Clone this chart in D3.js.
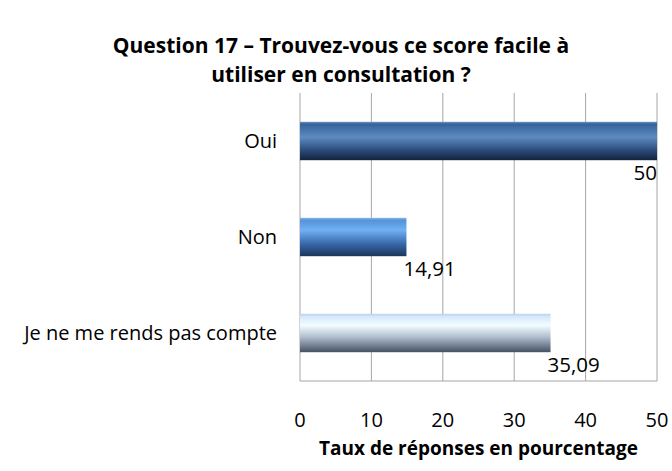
<!DOCTYPE html>
<html>
<head>
<meta charset="utf-8">
<script src="https://cdn.jsdelivr.net/npm/d3@7"></script>
<style>
  body { margin: 0; background: #fff; }
  text { font-family: "Open Sans", "Noto Sans", sans-serif; fill: #000; }
</style>
</head>
<body>
<script>
var categories = ["Oui", "Non", "Je ne me rends pas compte"];
var values = [50, 14.91, 35.09];
var valueLabels = ["50", "14,91", "35,09"];
var ticks = [0, 10, 20, 30, 40, 50];

(function(){
var w = 672, h = 471;
var pLeft = 300, pRight = 657, pTop = 93, pBottom = 381;

var svg = d3.select("body")
    .append("svg")
    .attr("width", w)
    .attr("height", h);

// gradients, one per bar
var stops = [
    [["0%", "#6f93c0"], ["6%", "#34629a"], ["40%", "#5d8bc2"], ["75%", "#2a4a78"], ["100%", "#15233b"]],
    [["0%", "#8fb8ea"], ["6%", "#5592d8"], ["32%", "#70b0f4"], ["70%", "#3465a4"], ["100%", "#1d3559"]],
    [["0%", "#b9d1ee"], ["8%", "#d6e8fb"], ["30%", "#f2fdff"], ["60%", "#b2bfd0"], ["100%", "#465262"]]
];
var defs = svg.append("defs");
stops.forEach(function(s, i){
    var g = defs.append("linearGradient")
        .attr("id", "grad" + i)
        .attr("x1", 0).attr("y1", 0)
        .attr("x2", 0).attr("y2", 1);
    g.selectAll("stop")
        .data(s)
        .enter()
        .append("stop")
        .attr("offset", function(d){ return d[0]; })
        .attr("stop-color", function(d){ return d[1]; });
});

var x = d3.scaleLinear()
    .domain([0, 50])
    .range([pLeft, pRight]);

var y = d3.scaleBand()
    .domain(categories)
    .range([pTop, pBottom])
    .paddingInner(0.6)
    .paddingOuter(0.3);

// gridlines
svg.selectAll(".grid")
    .data(ticks)
    .enter()
    .append("line")
    .attr("class", "grid")
    .attr("x1", function(d){ return x(d); })
    .attr("x2", function(d){ return x(d); })
    .attr("y1", pTop)
    .attr("y2", pBottom)
    .style("stroke", "#a6a6a6")
    .style("stroke-width", 1);

svg.append("line")
    .attr("x1", pLeft)
    .attr("x2", pRight)
    .attr("y1", pBottom)
    .attr("y2", pBottom)
    .style("stroke", "#a6a6a6");

// bars
svg.selectAll(".bar")
    .data(values)
    .enter()
    .append("rect")
    .attr("class", "bar")
    .attr("x", x(0))
    .attr("y", function(d, i){ return y(categories[i]); })
    .attr("width", function(d){ return x(d) - x(0); })
    .attr("height", y.bandwidth())
    .style("fill", function(d, i){ return "url(#grad" + i + ")"; });

// value labels under the bar ends
svg.selectAll(".vlabel")
    .data(values)
    .enter()
    .append("text")
    .attr("class", "vlabel")
    .attr("x", function(d){ return x(d) >= pRight - 20 ? x(d) : x(d) - 3; })
    .attr("y", function(d, i){ return y(categories[i]) + y.bandwidth() + 20; })
    .attr("text-anchor", function(d){ return x(d) >= pRight - 20 ? "end" : "start"; })
    .style("font-size", "20.5px")
    .text(function(d, i){ return valueLabels[i]; });

// category labels
svg.selectAll(".clabel")
    .data(categories)
    .enter()
    .append("text")
    .attr("class", "clabel")
    .attr("x", 277)
    .attr("y", function(d){ return y(d) + y.bandwidth() / 2; })
    .attr("dy", "0.35em")
    .attr("text-anchor", "end")
    .style("font-size", "20px")
    .text(function(d){ return d; });

// x tick labels
svg.selectAll(".tick")
    .data(ticks)
    .enter()
    .append("text")
    .attr("class", "tick")
    .attr("x", function(d){ return x(d); })
    .attr("y", 427)
    .attr("text-anchor", "middle")
    .style("font-size", "20px")
    .text(function(d){ return d; });

svg.append("text")
    .attr("x", (pLeft + pRight) / 2)
    .attr("y", 455)
    .attr("text-anchor", "middle")
    .style("font-size", "19px")
    .style("font-weight", "bold")
    .text("Taux de réponses en pourcentage");

var title = svg.append("text")
    .attr("text-anchor", "middle")
    .style("font-size", "21px")
    .style("font-weight", "bold");
title.append("tspan")
    .attr("x", 341)
    .attr("y", 53)
    .text("Question 17 – Trouvez-vous ce score facile à");
title.append("tspan")
    .attr("x", 341)
    .attr("y", 82)
    .text("utiliser en consultation ?");
})();
</script>
</body>
</html>
